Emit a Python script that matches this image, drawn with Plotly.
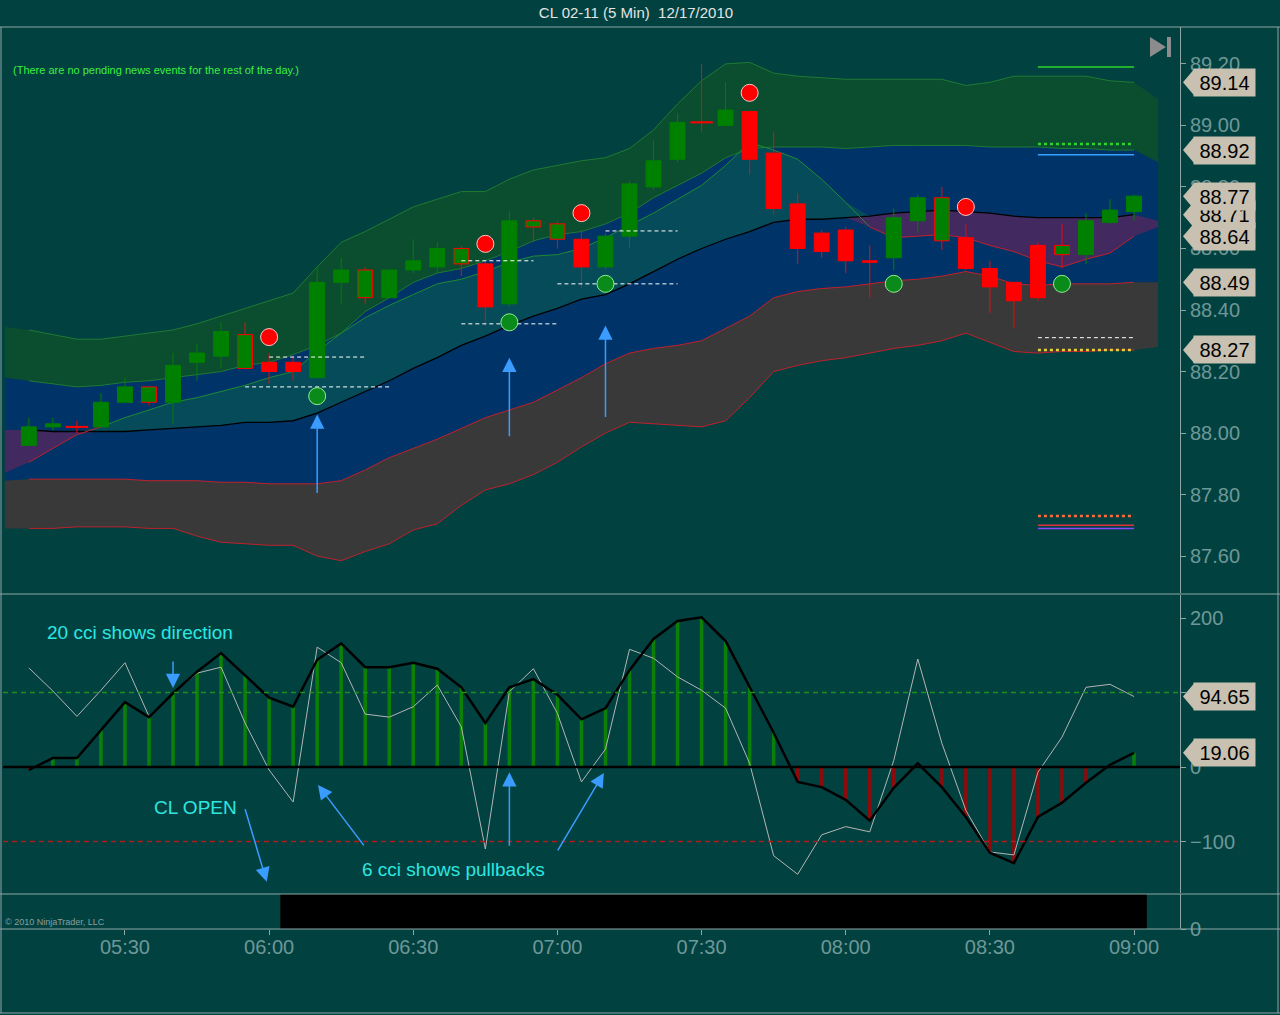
import pandas
import numpy
import plotly.graph_objects as go

# ---------------------------------------------------------------
# CL 02-11, 5 minute bars, 17 Dec 2010 (05:10 -> 09:00)
# ---------------------------------------------------------------
bar_times = pandas.date_range('2010-12-17 05:10', '2010-12-17 09:00', freq='5min')

opens = [87.96, 88.02, 88.02, 88.02, 88.10, 88.10, 88.10, 88.23, 88.25, 88.21,
         88.23, 88.23, 88.18, 88.49, 88.44, 88.44, 88.53, 88.54, 88.55, 88.55,
         88.42, 88.67, 88.63, 88.63, 88.54, 88.64, 88.80, 88.89, 89.01, 89.00,
         89.045, 88.91, 88.745, 88.65, 88.66, 88.56, 88.57, 88.69, 88.625, 88.635,
         88.535, 88.49, 88.61, 88.58, 88.58, 88.685, 88.72]
highs = [88.05, 88.05, 88.04, 88.13, 88.18, 88.15, 88.26, 88.29, 88.36, 88.36,
         88.26, 88.25, 88.54, 88.57, 88.54, 88.53, 88.63, 88.62, 88.61, 88.56,
         88.72, 88.70, 88.69, 88.66, 88.65, 88.82, 88.95, 89.04, 89.20, 89.14,
         89.05, 88.98, 88.78, 88.66, 88.67, 88.61, 88.73, 88.775, 88.80, 88.68,
         88.56, 88.49, 88.62, 88.68, 88.715, 88.76, 88.775]
lows = [87.96, 88.01, 88.00, 88.02, 88.10, 88.09, 88.03, 88.17, 88.21, 88.21,
        88.16, 88.17, 88.18, 88.42, 88.42, 88.44, 88.52, 88.52, 88.51, 88.35,
        88.41, 88.62, 88.60, 88.47, 88.53, 88.60, 88.79, 88.88, 88.98, 89.00,
        88.84, 88.71, 88.55, 88.57, 88.52, 88.44, 88.53, 88.65, 88.595, 88.53,
        88.39, 88.34, 88.43, 88.535, 88.55, 88.68, 88.69]
closes = [88.02, 88.03, 88.02, 88.10, 88.15, 88.15, 88.22, 88.26, 88.33, 88.32,
          88.20, 88.20, 88.49, 88.53, 88.53, 88.53, 88.56, 88.60, 88.60, 88.41,
          88.69, 88.69, 88.68, 88.54, 88.64, 88.81, 88.885, 89.01, 89.01, 89.05,
          88.89, 88.73, 88.60, 88.59, 88.56, 88.555, 88.70, 88.765, 88.765, 88.535,
          88.475, 88.43, 88.44, 88.61, 88.69, 88.725, 88.77]
# up bars that the platform paints with a red outline
red_outlined = [5, 9, 14, 18, 21, 22, 38, 43]

# ---------------------------------------------------------------
# bands (one bar before and one bar after the candles)
# ---------------------------------------------------------------
band_times = pandas.date_range('2010-12-17 05:05', '2010-12-17 09:05', freq='5min')

upper_outer = [88.345, 88.335, 88.32, 88.305, 88.305, 88.315, 88.325, 88.335, 88.355, 88.38,
               88.405, 88.43, 88.455, 88.54, 88.62, 88.655, 88.695, 88.735, 88.76, 88.785,
               88.785, 88.825, 88.855, 88.87, 88.885, 88.895, 88.925, 88.985, 89.07, 89.145,
               89.20, 89.205, 89.17, 89.16, 89.155, 89.15, 89.15, 89.15, 89.15, 89.15,
               89.13, 89.14, 89.16, 89.16, 89.16, 89.16, 89.145, 89.14, 89.085]
upper_inner = [88.18, 88.17, 88.16, 88.15, 88.155, 88.165, 88.17, 88.18, 88.19, 88.20,
               88.22, 88.23, 88.255, 88.285, 88.325, 88.395, 88.44, 88.49, 88.52, 88.535,
               88.56, 88.59, 88.625, 88.645, 88.655, 88.68, 88.715, 88.765, 88.805, 88.845,
               88.895, 88.925, 88.93, 88.93, 88.93, 88.925, 88.93, 88.935, 88.935, 88.935,
               88.935, 88.93, 88.93, 88.93, 88.925, 88.925, 88.92, 88.92, 88.88]
middle = [88.01, 88.01, 88.005, 88.005, 88.005, 88.005, 88.01, 88.015, 88.02, 88.025,
          88.035, 88.035, 88.04, 88.065, 88.10, 88.135, 88.17, 88.21, 88.245, 88.285,
          88.315, 88.35, 88.38, 88.405, 88.435, 88.45, 88.485, 88.525, 88.565, 88.60,
          88.63, 88.655, 88.685, 88.695, 88.695, 88.70, 88.705, 88.715, 88.72, 88.725,
          88.72, 88.715, 88.705, 88.70, 88.70, 88.70, 88.70, 88.71, 88.69]
fast = [87.87, 87.905, 87.95, 87.995, 88.02, 88.05, 88.075, 88.10, 88.115, 88.135,
        88.155, 88.18, 88.20, 88.265, 88.325, 88.375, 88.415, 88.45, 88.485, 88.50,
        88.525, 88.555, 88.575, 88.58, 88.60, 88.635, 88.675, 88.715, 88.76, 88.805,
        88.87, 88.945, 88.92, 88.89, 88.825, 88.75, 88.67, 88.635, 88.64, 88.645,
        88.635, 88.61, 88.59, 88.56, 88.54, 88.565, 88.585, 88.64, 88.67]
lower_inner = [87.845, 87.85, 87.85, 87.85, 87.85, 87.85, 87.845, 87.845, 87.845, 87.84,
               87.84, 87.835, 87.835, 87.835, 87.845, 87.88, 87.92, 87.95, 87.98, 88.015,
               88.05, 88.075, 88.10, 88.14, 88.18, 88.225, 88.26, 88.275, 88.285, 88.30,
               88.34, 88.38, 88.44, 88.46, 88.47, 88.475, 88.485, 88.495, 88.50, 88.51,
               88.525, 88.51, 88.485, 88.48, 88.485, 88.485, 88.485, 88.49, 88.49]
lower_outer = [87.69, 87.69, 87.69, 87.695, 87.695, 87.695, 87.69, 87.69, 87.665, 87.645,
               87.64, 87.635, 87.635, 87.60, 87.585, 87.615, 87.64, 87.685, 87.705, 87.765,
               87.815, 87.835, 87.865, 87.905, 87.955, 88.00, 88.035, 88.03, 88.025, 88.02,
               88.04, 88.115, 88.20, 88.22, 88.235, 88.245, 88.26, 88.275, 88.285, 88.30,
               88.325, 88.295, 88.265, 88.26, 88.265, 88.265, 88.27, 88.27, 88.28]

# signal dots
sell_times = ['2010-12-17 06:00', '2010-12-17 06:45', '2010-12-17 07:05', '2010-12-17 07:40', '2010-12-17 08:25']
sell_prices = [88.312, 88.615, 88.715, 89.106, 88.735]
buy_times = ['2010-12-17 06:10', '2010-12-17 06:50', '2010-12-17 07:10', '2010-12-17 08:10', '2010-12-17 08:45']
buy_prices = [88.12, 88.36, 88.485, 88.485, 88.485]

# white dashed lines
dash_prices = [88.247, 88.15, 88.56, 88.355, 88.657, 88.485]
dash_from = ['06:00', '05:55', '06:40', '06:40', '07:10', '07:00']
dash_to = ['06:20', '06:25', '06:55', '07:00', '07:25', '07:25']

# pivot levels on the right side
level_prices = [89.19, 88.94, 88.905, 88.31, 88.27, 87.73, 87.70, 87.69]
level_from = '2010-12-17 08:40'
level_to = '2010-12-17 09:00'
level_styles = [('#2bd62b', 'solid', 1.5), ('#2bd62b', 'dot', 2.5), ('#3aa0ff', 'solid', 1.5),
                ('#ffffff', '4px,3px', 1), ('#e8d23a', 'dot', 2.5), ('#ff6a3a', 'dot', 2.5),
                ('#e0303a', 'solid', 1.5), ('#8a46ff', 'solid', 1.5)]

price_ticks = [87.6, 87.8, 88.0, 88.2, 88.4, 88.6, 88.8, 89.0, 89.2]
price_tags = [89.14, 88.92, 88.71, 88.77, 88.64, 88.49, 88.27]

# ---------------------------------------------------------------
# CCI panel
# ---------------------------------------------------------------
cci20 = [-4, 12, 12, 50, 87, 67, 99, 128, 153, 123,
         93, 81, 144, 166, 134, 134, 140, 132, 107, 59,
         107, 118, 97, 64, 79, 130, 172, 196, 201, 169,
         107, 46, -20, -27, -44, -72, -28, 5, -27, -67,
         -115, -129, -67, -48, -21, 3, 19.06]
cci6 = [133, 102, 68, 103, 140, 68, 99, 126, 134, 59,
        -4, -47, 161, 140, 71, 67, 81, 110, 54, -110,
        101, 132, 72, -20, 24, 158, 146, 121, 103, 79,
        5, -119, -144, -91, -80, -87, 9, 145, 32, -58,
        -114, -118, -7, 40, 107, 111, 94.65]
cci_ticks = [-100, 0, 100, 200]
cci_tags = [94.65, 19.06]

# session flag (black block in the bottom panel)
session = [0, 0, 0, 0, 0, 0, 0, 0, 0, 0, 0, 1, 1, 1, 1, 1, 1, 1, 1, 1,
           1, 1, 1, 1, 1, 1, 1, 1, 1, 1, 1, 1, 1, 1, 1, 1, 1, 1, 1, 1,
           1, 1, 1, 1, 1, 1, 1]

# ---------------------------------------------------------------
BG = '#014241'
GRID = '#8fa6a6'
TICK = '#6f9797'
GREEN = '#008000'
RED = '#ff0000'
TAG = '#c8c0b0'
CYAN = '#2ee6e0'
BLUE_ARROW = '#3a9cff'
FONT = 'Liberation Sans, Arial, sans-serif'


def px_x(p):
    # window pixel -> paper x
    return (p - 3) / 1177.0


def px_y(p):
    # window pixel -> paper y
    return (929 - p) / 902.0


fig = go.Figure()


def band_fill(top, bottom, color):
    xs = list(band_times) + list(band_times[::-1])
    ys = list(top) + list(bottom)[::-1]
    fig.add_trace(go.Scatter(x=xs, y=ys, fill='toself', fillcolor=color, mode='lines',
                             line=dict(width=0), hoverinfo='skip', xaxis='x', yaxis='y'))


def band_line(values, color, width=1):
    fig.add_trace(go.Scatter(x=band_times[1:48], y=values[1:48], mode='lines',
                             line=dict(color=color, width=width), hoverinfo='skip',
                             xaxis='x', yaxis='y'))


mid_arr = numpy.array(middle)
fast_arr = numpy.array(fast)

band_fill(upper_outer, upper_inner, '#0b4d2f')
band_fill(upper_inner, lower_inner, '#003468')
band_fill(lower_inner, lower_outer, '#393939')
band_fill(numpy.maximum(fast_arr, mid_arr), mid_arr, 'rgba(20,130,60,0.30)')
band_fill(mid_arr, numpy.minimum(fast_arr, mid_arr), 'rgba(200,20,80,0.33)')

band_line(upper_outer, '#1f7a33')
band_line(upper_inner, '#1f7a33')
band_line(lower_inner, '#c0202c')
band_line(lower_outer, '#c0202c')
band_line(middle, '#000000', 1.3)

# fast line: green above the middle line, red below
above = (fast_arr >= mid_arr)[1:48]
fy = fast_arr[1:48]
fast_red = [fy[i] if (not above[i]) or (i > 0 and not above[i - 1]) else None for i in range(len(fy))]
fast_green = [fy[i] if above[i] or (i > 0 and above[i - 1]) else None for i in range(len(fy))]
fig.add_trace(go.Scatter(x=band_times[1:48], y=fast_red, mode='lines', line=dict(color='#c0202c', width=1),
                         hoverinfo='skip', xaxis='x', yaxis='y'))
fig.add_trace(go.Scatter(x=band_times[1:48], y=fast_green, mode='lines', line=dict(color='#1f8a33', width=1),
                         hoverinfo='skip', xaxis='x', yaxis='y'))

# levels on the right
for price, (col, dash, w) in zip(level_prices, level_styles):
    fig.add_trace(go.Scatter(x=[level_from, level_to], y=[price, price], mode='lines',
                             line=dict(color=col, dash=dash, width=w), hoverinfo='skip',
                             xaxis='x', yaxis='y'))

# ---- candles, drawn on an overlay axis so they sit above the bands ----
o = numpy.array(opens)
c = numpy.array(closes)
body_col = numpy.where(c > o, GREEN, RED).astype(object)
edge_col = body_col.copy()
edge_col[red_outlined] = RED

wick_x = {GREEN: [], RED: []}
wick_y = {GREEN: [], RED: []}
for i, t in enumerate(bar_times):
    col = edge_col[i]
    top, bot = max(opens[i], closes[i]), min(opens[i], closes[i])
    wick_x[col] += [t, t, None, t, t, None]
    wick_y[col] += [highs[i], top, None, bot, lows[i], None]
for col in (GREEN, RED):
    fig.add_trace(go.Scatter(x=wick_x[col], y=wick_y[col], mode='lines', line=dict(color=col, width=1),
                             hoverinfo='skip', xaxis='x', yaxis='y4'))

fig.add_trace(go.Bar(x=bar_times, y=c - o, base=o, width=186000,
                     marker=dict(color=list(body_col), line=dict(color=list(edge_col), width=1)),
                     hoverinfo='skip', xaxis='x', yaxis='y4'))

doji = [i for i in range(len(opens)) if opens[i] == closes[i]]
fig.add_trace(go.Scatter(x=[bar_times[i] for i in doji], y=[opens[i] for i in doji], mode='markers',
                         marker=dict(symbol='line-ew', size=16, line=dict(color=RED, width=2)),
                         hoverinfo='skip', xaxis='x', yaxis='y4'))

for p, a, b in zip(dash_prices, dash_from, dash_to):
    fig.add_trace(go.Scatter(x=['2010-12-17 ' + a, '2010-12-17 ' + b], y=[p, p], mode='lines',
                             line=dict(color='white', width=1, dash='4px,3px'), hoverinfo='skip',
                             xaxis='x', yaxis='y4'))

fig.add_trace(go.Scatter(x=sell_times, y=sell_prices, mode='markers',
                         marker=dict(color=RED, size=17, line=dict(color='#ffc8c8', width=1)),
                         hoverinfo='skip', xaxis='x', yaxis='y4'))
fig.add_trace(go.Scatter(x=buy_times, y=buy_prices, mode='markers',
                         marker=dict(color='#0a8a1a', size=17, line=dict(color='#90ee90', width=1)),
                         hoverinfo='skip', xaxis='x', yaxis='y4'))

# ---- CCI ----
fig.add_trace(go.Bar(x=bar_times, y=cci20, width=44000,
                     marker=dict(color=['#0a800a' if v >= 0 else '#8c0c0c' for v in cci20], line=dict(width=0)),
                     hoverinfo='skip', xaxis='x', yaxis='y2'))
fig.add_trace(go.Scatter(x=bar_times, y=cci6, mode='lines', line=dict(color='#b4b4b4', width=1),
                         hoverinfo='skip', xaxis='x', yaxis='y2'))
fig.add_trace(go.Scatter(x=bar_times, y=cci20, mode='lines', line=dict(color='black', width=2.5),
                         hoverinfo='skip', xaxis='x', yaxis='y2'))

# ---- session block (bars overlap a little so no seams show) ----
fig.add_trace(go.Bar(x=bar_times, y=session, width=320000, marker=dict(color='black', line=dict(width=0)),
                     hoverinfo='skip', xaxis='x', yaxis='y3'))

# ---------------------------------------------------------------
shapes = []
# panel frames
for yy in (27, 594, 894, 929, 1013):
    shapes.append(dict(type='line', xref='paper', yref='paper', x0=px_x(0), x1=px_x(1280),
                       y0=px_y(yy), y1=px_y(yy), line=dict(color=GRID, width=1)))
for xx in (1, 1278):
    shapes.append(dict(type='line', xref='paper', yref='paper', x0=px_x(xx), x1=px_x(xx),
                       y0=px_y(27), y1=px_y(1013), line=dict(color=GRID, width=1)))
# CCI reference lines
shapes.append(dict(type='line', xref='paper', yref='y2', x0=0, x1=1, y0=100, y1=100,
                   line=dict(color='#1f8f1f', width=1.3, dash='5px,4px')))
shapes.append(dict(type='line', xref='paper', yref='y2', x0=0, x1=1, y0=-100, y1=-100,
                   line=dict(color='#b01c1c', width=1.3, dash='5px,4px')))
shapes.append(dict(type='line', xref='paper', yref='y2', x0=0, x1=1, y0=0, y1=0,
                   line=dict(color='black', width=2.5)))
# "go to end" icon
shapes.append(dict(type='path', xref='paper', yref='paper', line=dict(width=0), fillcolor='#8c8c8c',
                   path='M %f,%f L %f,%f L %f,%f Z' % (px_x(1150), px_y(37), px_x(1150), px_y(57),
                                                        px_x(1166), px_y(47))))
shapes.append(dict(type='rect', xref='paper', yref='paper', line=dict(width=0), fillcolor='#8c8c8c',
                   x0=px_x(1167), x1=px_x(1171), y0=px_y(57), y1=px_y(37)))

annotations = []


def value_tag(v, yref, half):
    shapes.append(dict(type='path', xref='paper', yref=yref, line=dict(width=0), fillcolor=TAG,
                       path='M %f,%f L %f,%f L %f,%f Z' % (px_x(1183), v, px_x(1194), v + half,
                                                            px_x(1194), v - half)))
    annotations.append(dict(xref='paper', yref=yref, x=px_x(1193), y=v, xanchor='left', yanchor='middle',
                            text='%.2f' % v, showarrow=False, bgcolor=TAG, width=59, height=25,
                            borderpad=1, align='center', font=dict(size=20, color='black', family=FONT)))


for v in price_tags:
    value_tag(v, 'y', 13 / 307.5)
for v in cci_tags:
    value_tag(v, 'y2', 13 / 0.745)

# blue arrows
arrow_style = dict(showarrow=True, arrowhead=2, arrowsize=1.9, arrowwidth=1.5, arrowcolor=BLUE_ARROW,
                   text='', axref='pixel', ayref='pixel', standoff=0)
for t, p, ay in [('2010-12-17 06:10', 88.06, 80), ('2010-12-17 06:50', 88.245, 80),
                 ('2010-12-17 07:10', 88.35, 93)]:
    annotations.append(dict(xref='x', yref='y', x=t, y=p, ax=0, ay=ay, **arrow_style))
for t, v, ax, ay in [('2010-12-17 05:40', 106, 0, -28), ('2010-12-17 05:59:30', -154, -22, -74),
                     ('2010-12-17 06:10:10', -24, 47, 62), ('2010-12-17 06:50', -7, 0, 75),
                     ('2010-12-17 07:09:40', -8, -47, 79)]:
    annotations.append(dict(xref='x', yref='y2', x=t, y=v, ax=ax, ay=ay, **arrow_style))

# notes
for txt, xx, v in [('20 cci shows direction', 45, 181), ('CL OPEN', 152, -55),
                   ('6 cci shows pullbacks', 360, -138)]:
    annotations.append(dict(xref='paper', yref='y2', x=px_x(xx), y=v, xanchor='left', yanchor='middle',
                            text=txt, showarrow=False, font=dict(size=19, color=CYAN, family=FONT)))
annotations.append(dict(xref='paper', yref='paper', x=px_x(11), y=px_y(70), xanchor='left', yanchor='middle',
                        text='(There are no pending news events for the rest of the day.)', showarrow=False,
                        font=dict(size=11, color='#3ef03e', family=FONT)))
annotations.append(dict(xref='paper', yref='paper', x=px_x(3), y=px_y(922), xanchor='left', yanchor='middle',
                        text='\u00a9 2010 NinjaTrader, LLC', showarrow=False,
                        font=dict(size=9, color='#8a9e9e', family=FONT)))

axis_common = dict(side='right', anchor='x', showgrid=False, zeroline=False, ticks='outside', ticklen=5,
                   tickcolor=GRID, showline=True, linecolor=GRID, linewidth=1,
                   tickfont=dict(size=20, color=TICK, family=FONT), fixedrange=True)

fig.update_layout(
    width=1280, height=1015,
    margin=dict(l=3, r=100, t=27, b=86),
    paper_bgcolor=BG, plot_bgcolor=BG,
    showlegend=False, hovermode=False, barmode='overlay',
    font=dict(family=FONT, color=TICK),
    title=dict(text='CL 02-11 (5 Min) \u00a012/17/2010', x=636 / 1280, y=1 - 13 / 1015,
               xanchor='center', yanchor='middle', xref='container', yref='container',
               font=dict(size=15, color='#e4e4e4', family=FONT)),
    xaxis=dict(domain=[0, 1], anchor='y3', type='date',
               range=['2010-12-17 05:04:37', '2010-12-17 09:09:34'],
               showgrid=False, zeroline=False, showline=False, tickformat='%H:%M',
               dtick=1800000, tick0='2010-12-17 05:30', ticks='outside', ticklen=5, tickcolor=GRID,
               ticklabelstandoff=-5, fixedrange=True,
               tickfont=dict(size=20, color=TICK, family=FONT)),
    yaxis=dict(domain=[px_y(593), 1], range=[87.48, 89.32], tickvals=price_ticks, tickformat='.2f',
               **axis_common),
    yaxis2=dict(domain=[px_y(893), px_y(595)], range=[-169.1, 230.9], tickvals=cci_ticks, **axis_common),
    yaxis3=dict(domain=[0, px_y(894)], range=[0, 1], tickvals=[0], **axis_common),
    yaxis4=dict(overlaying='y', anchor='x', range=[87.48, 89.32], visible=False, fixedrange=True),
    shapes=shapes,
    annotations=annotations,
)

# the page body has a default 8px margin; drop it so the chart fills the window
fig.write_html("out.html", config={'displayModeBar': False},
               post_script="document.body.style.margin='0';")
